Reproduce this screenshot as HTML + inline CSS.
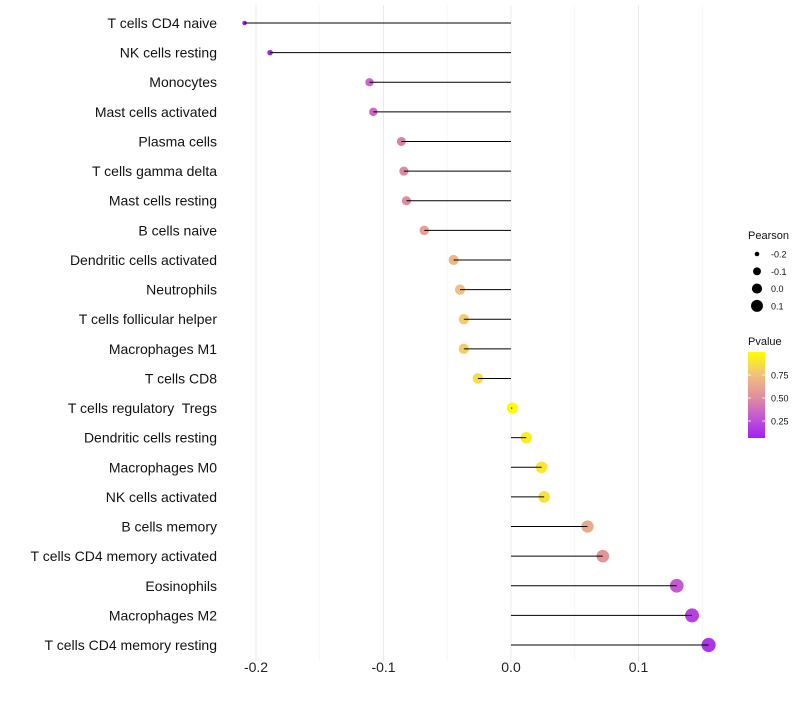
<!DOCTYPE html>
<html><head><meta charset="utf-8"><style>
body{margin:0;background:#fff;}
svg text{font-family:"Liberation Sans",sans-serif;white-space:pre;}
</style></head><body>
<svg id="chart" width="800" height="700"></svg>
<script>
const categories=["T cells CD4 naive","NK cells resting","Monocytes","Mast cells activated","Plasma cells","T cells gamma delta","Mast cells resting","B cells naive","Dendritic cells activated","Neutrophils","T cells follicular helper","Macrophages M1","T cells CD8","T cells regulatory  Tregs","Dendritic cells resting","Macrophages M0","NK cells activated","B cells memory","T cells CD4 memory activated","Eosinophils","Macrophages M2","T cells CD4 memory resting"];
const pearson=[-0.209,-0.189,-0.111,-0.108,-0.086,-0.084,-0.082,-0.068,-0.045,-0.040,-0.037,-0.037,-0.026,0.001,0.012,0.024,0.026,0.060,0.072,0.130,0.142,0.155];
const pvalue=[0.05,0.1,0.35,0.36,0.45,0.48,0.5,0.6,0.7,0.75,0.8,0.8,0.86,0.99,0.93,0.9,0.88,0.65,0.55,0.3,0.2,0.15];
const xTicks=[-0.2,-0.1,0.0,0.1];
const xTickLabels=["-0.2","-0.1","0.0","0.1"];
const minorTicks=[-0.15,-0.05,0.05,0.15];
const legendPearson=[-0.2,-0.1,0.0,0.1];
const legendP=[0.25,0.5,0.75];

const NS="http://www.w3.org/2000/svg";
const svg=document.getElementById('chart');
const X=v=>511+v*1275;
const Y=i=>23+i*29.62;
const R=p=>Math.sqrt(Math.max(1,5.3+(p+0.2)*102));
const RP=p=>R(p)*1.1;
const stops=[[0.065,[160,32,240]],[0.3,[196,90,210]],[0.5,[224,140,160]],[0.75,[240,192,128]],[1.0,[255,255,0]]];
function col(p){
  for(let i=1;i<stops.length;i++){if(p<=stops[i][0]){const a=stops[i-1],b=stops[i];const t=Math.max(0,(p-a[0])/(b[0]-a[0]));return 'rgb('+a[1].map((c,k)=>Math.round(c+(b[1][k]-c)*t)).join(',')+')';}}
  return 'rgb(255,255,0)';
}
function mk(tag,attrs,parent){const e=document.createElementNS(NS,tag);for(const k in attrs)e.setAttribute(k,attrs[k]);(parent||svg).appendChild(e);return e;}
const PY=0.065,PT=1.0,BY0=438,BY1=352;
const PYf=p=>BY0-(p-PY)/(PT-PY)*(BY0-BY1);

minorTicks.forEach(t=>{const l=mk('line',{x1:X(t),x2:X(t),y1:5,y2:662,stroke:'#f2f2f2','stroke-width':0.6});

});
xTicks.forEach((t,i)=>{const l=mk('line',{x1:X(t),x2:X(t),y1:5,y2:662,stroke:'#ebebeb','stroke-width':1});


const tx=mk('text',{x:X(t),y:672,'text-anchor':'middle','font-size':14,fill:'#222'});tx.textContent=xTickLabels[i];

});

categories.forEach((c,i)=>{
  const y=Y(i);
  const lb=mk('text',{x:217,y:y+5,'text-anchor':'end','font-size':14,fill:'#111'});lb.textContent=c;
  
  
  const d=mk('circle',{cx:X(pearson[i]),cy:y,r:RP(pearson[i]),fill:col(pvalue[i])});
  
  
  const ln=mk('line',{x1:X(0),x2:X(pearson[i]),y1:y,y2:y,stroke:'#000','stroke-width':1});
  
  
});

// legend
const lt=mk('text',{x:748,y:239,'font-size':11,fill:'#111'});lt.textContent='Pearson';


legendPearson.forEach((p,i)=>{const y=254+i*17.3;
  const c=mk('circle',{cx:757,cy:y,r:R(p),fill:'#000'});
  
  
  const t=mk('text',{x:771,y:y+3.5,'font-size':9,fill:'#111'});t.textContent=p.toFixed(1).replace('-0.0','0.0');
  
  });
const pt=mk('text',{x:748,y:345,'font-size':11,fill:'#111'});pt.textContent='Pvalue';


const defs=mk('defs',{});const g=mk('linearGradient',{id:'pg',x1:0,y1:1,x2:0,y2:0},defs);
stops.forEach(s=>mk('stop',{offset:(s[0]-PY)/(PT-PY),'stop-color':'rgb('+s[1].join(',')+')'},g));
const cb=mk('rect',{x:748,y:BY1,width:17,height:BY0-BY1,fill:'url(#pg)'});


legendP.forEach(p=>{const y=PYf(p);
  mk('line',{x1:748,x2:751,y1:y,y2:y,stroke:'#fff','stroke-width':0.8});
  mk('line',{x1:762,x2:765,y1:y,y2:y,stroke:'#fff','stroke-width':0.8});
  const t=mk('text',{x:771,y:y+3.5,'font-size':9,fill:'#111'});t.textContent=p.toFixed(2);
  
  });
</script>
</body></html>
